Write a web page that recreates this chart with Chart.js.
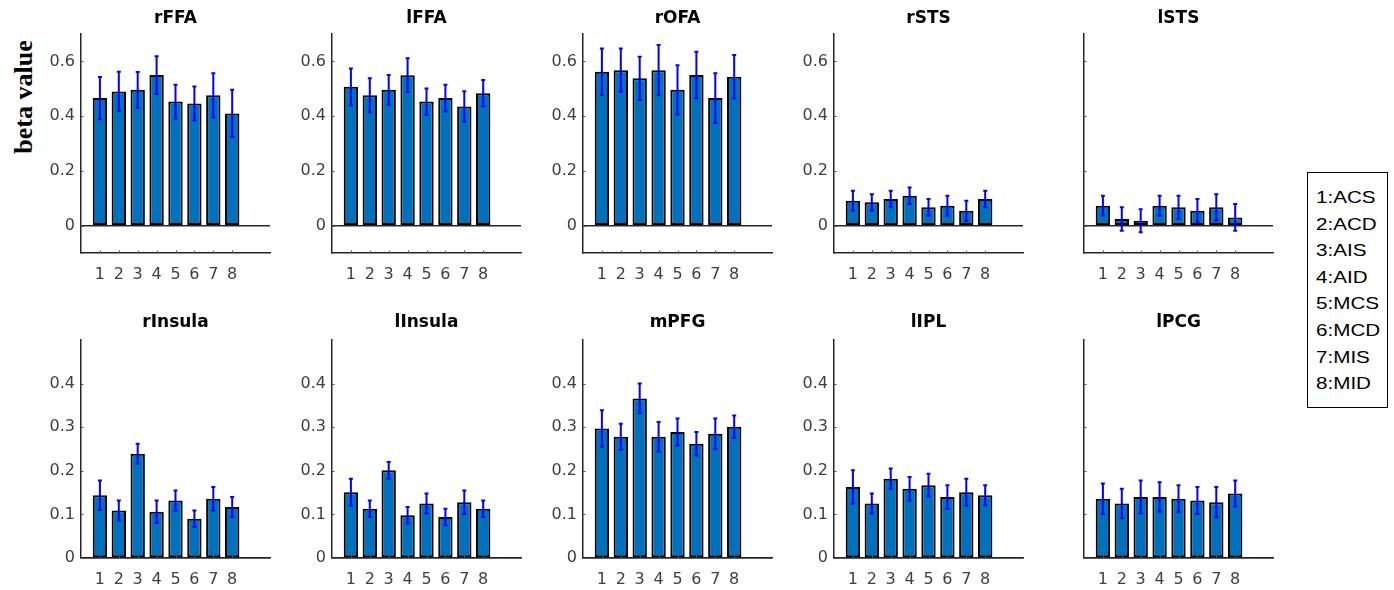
<!DOCTYPE html>
<html>
<head>
<meta charset="utf-8">
<script src="https://cdn.jsdelivr.net/npm/chart.js@4.4.0/dist/chart.umd.min.js"></script>
<style>
  html, body { margin: 0; padding: 0; background: #fff; }
  body { width: 1394px; height: 590px; overflow: hidden; position: relative; font-family: "Liberation Sans", Arial, sans-serif; }
  canvas.pc { position: absolute; }
  #ylab { position: absolute; left: 24px; top: 97px; transform: translate(-50%, -50%) rotate(-90deg);
          font: bold 26px "Liberation Serif", "Times New Roman", serif; white-space: nowrap; color: #000; line-height: 1; }
  #legend { position: absolute; left: 1307px; top: 172px; width: 81px; height: 236px; box-sizing: border-box;
            border: 1.5px solid #000; padding: 11px 0 0 8px; font-size: 16.5px; line-height: 26.6px; color: #000; }
  #legend div { transform: scaleX(1.25); transform-origin: 0 50%; white-space: nowrap; }
</style>
</head>
<body>
<div id="ylab">beta value</div>
<div id="legend"></div>
<script>
// ---------- data ----------
const categories = ['1', '2', '3', '4', '5', '6', '7', '8'];
const legendLabels = ['1:ACS', '2:ACD', '3:AIS', '4:AID', '5:MCS', '6:MCD', '7:MIS', '8:MID'];
const topTicks = [0, 0.2, 0.4, 0.6];
const bottomTicks = [0, 0.1, 0.2, 0.3, 0.4];

const rFFA_mean = [0.466, 0.490, 0.496, 0.550, 0.453, 0.446, 0.476, 0.410];
const rFFA_err  = [0.077, 0.072, 0.065, 0.069, 0.062, 0.062, 0.081, 0.086];
const lFFA_mean = [0.507, 0.476, 0.496, 0.549, 0.453, 0.466, 0.435, 0.484];
const lFFA_err  = [0.067, 0.062, 0.054, 0.062, 0.048, 0.049, 0.056, 0.048];
const rOFA_mean = [0.562, 0.568, 0.538, 0.568, 0.496, 0.550, 0.466, 0.544];
const rOFA_err  = [0.085, 0.079, 0.079, 0.092, 0.090, 0.085, 0.091, 0.079];
const rSTS_mean = [0.091, 0.085, 0.097, 0.109, 0.067, 0.073, 0.054, 0.097];
const rSTS_err  = [0.036, 0.030, 0.030, 0.030, 0.030, 0.036, 0.037, 0.030];
const lSTS_mean = [0.073, 0.024, 0.018, 0.073, 0.067, 0.054, 0.067, 0.030];
const lSTS_err  = [0.036, 0.043, 0.042, 0.036, 0.042, 0.043, 0.048, 0.049];

const rInsula_mean = [0.144, 0.109, 0.239, 0.106, 0.132, 0.090, 0.136, 0.117];
const rInsula_err  = [0.034, 0.023, 0.023, 0.026, 0.023, 0.019, 0.027, 0.023];
const lInsula_mean = [0.151, 0.113, 0.201, 0.098, 0.125, 0.094, 0.128, 0.113];
const lInsula_err  = [0.031, 0.019, 0.019, 0.019, 0.023, 0.019, 0.027, 0.019];
const mPFG_mean = [0.297, 0.278, 0.366, 0.278, 0.289, 0.262, 0.285, 0.301];
const mPFG_err  = [0.042, 0.030, 0.034, 0.034, 0.031, 0.027, 0.035, 0.026];
const lIPL_mean = [0.163, 0.125, 0.182, 0.159, 0.167, 0.140, 0.151, 0.144];
const lIPL_err  = [0.038, 0.023, 0.023, 0.027, 0.026, 0.027, 0.031, 0.023];
const lPCG_mean = [0.136, 0.125, 0.140, 0.140, 0.136, 0.132, 0.128, 0.148];
const lPCG_err  = [0.035, 0.034, 0.038, 0.034, 0.031, 0.031, 0.035, 0.030];

const panels = [
  { name: 'rFFA', mean: rFFA_mean, err: rFFA_err, row: 0, col: 0, yLabels: true },
  { name: 'lFFA', mean: lFFA_mean, err: lFFA_err, row: 0, col: 1, yLabels: true },
  { name: 'rOFA', mean: rOFA_mean, err: rOFA_err, row: 0, col: 2, yLabels: true },
  { name: 'rSTS', mean: rSTS_mean, err: rSTS_err, row: 0, col: 3, yLabels: true },
  { name: 'lSTS', mean: lSTS_mean, err: lSTS_err, row: 0, col: 4, yLabels: false },
  { name: 'rInsula', mean: rInsula_mean, err: rInsula_err, row: 1, col: 0, yLabels: true },
  { name: 'lInsula', mean: lInsula_mean, err: lInsula_err, row: 1, col: 1, yLabels: true },
  { name: 'mPFG', mean: mPFG_mean, err: mPFG_err, row: 1, col: 2, yLabels: true },
  { name: 'lIPL', mean: lIPL_mean, err: lIPL_err, row: 1, col: 3, yLabels: true },
  { name: 'lPCG', mean: lPCG_mean, err: lPCG_err, row: 1, col: 4, yLabels: false }
];

// ---------- layout ----------
const colLefts = [81, 332, 583, 834, 1084];
const AXW = 189, YW = 60, RPAD = 5;
const rows = [
  { top: 0, height: 290, ymin: -0.1, ymax: 0.7, ticks: topTicks, tpad: { top: 8, bottom: 5.6 }, xh: 37 },
  { top: 290, height: 300, ymin: 0, ymax: 0.5, ticks: bottomTicks, tpad: { top: 22.6, bottom: 7 }, xh: 32 }
];

document.getElementById('legend').innerHTML = legendLabels.map(s => '<div>' + s + '</div>').join('');

const FONT = '"DejaVu Sans", "Liberation Sans", Arial, sans-serif';
const AXIS_COLOR = '#262626';

const errorBarPlugin = {
  id: 'errorBars',
  afterDatasetsDraw(chart, args, opts) {
    const { ctx, scales: { x, y } } = chart;
    const p = opts.panel;
    ctx.save();
    ctx.strokeStyle = '#0000ff';
    ctx.lineWidth = 2;
    p.mean.forEach((m, i) => {
      const px = x.getPixelForValue(i + 1);
      const yt = y.getPixelForValue(m + p.err[i]);
      const yb = y.getPixelForValue(m - p.err[i]);
      ctx.beginPath();
      ctx.moveTo(px, yt); ctx.lineTo(px, yb);
      ctx.moveTo(px - 2, yt); ctx.lineTo(px + 2, yt);
      ctx.moveTo(px - 2, yb); ctx.lineTo(px + 2, yb);
      ctx.stroke();
    });
    ctx.restore();
  }
};

const innerTicksPlugin = {
  id: 'innerTicks',
  afterDraw(chart) {
    const { ctx, scales: { x, y }, chartArea } = chart;
    ctx.save();
    ctx.strokeStyle = '#555';
    ctx.lineWidth = 1;
    y.ticks.forEach(t => {
      const py = Math.round(y.getPixelForValue(t.value)) + 0.5;
      ctx.beginPath(); ctx.moveTo(chartArea.left, py); ctx.lineTo(chartArea.left + 2.5, py); ctx.stroke();
    });
    categories.forEach((c, i) => {
      const px = Math.round(x.getPixelForValue(i + 1)) + 0.5;
      ctx.beginPath(); ctx.moveTo(px, chartArea.bottom); ctx.lineTo(px, chartArea.bottom - 2.5); ctx.stroke();
    });
    ctx.restore();
  }
};

panels.forEach(p => {
  const r = rows[p.row];
  const cv = document.createElement('canvas');
  cv.className = 'pc';
  const w = YW + AXW + RPAD;
  cv.width = w; cv.height = r.height;
  cv.style.left = (colLefts[p.col] - YW) + 'px';
  cv.style.top = r.top + 'px';
  cv.style.width = w + 'px'; cv.style.height = r.height + 'px';
  document.body.appendChild(cv);

  new Chart(cv, {
    type: 'bar',
    data: {
      datasets: [{
        data: categories.map((c, i) => ({ x: i + 1, y: p.mean[i] })),
        backgroundColor: '#0072BD',
        borderColor: '#000000',
        borderWidth: 2,
        borderSkipped: false,
        barPercentage: 0.76,
        categoryPercentage: 1.0
      }]
    },
    options: {
      responsive: false,
      animation: false,
      devicePixelRatio: 1,
      layout: { padding: { left: 0, right: RPAD, top: 0, bottom: 0 } },
      plugins: {
        legend: { display: false },
        tooltip: { enabled: false },
        title: {
          display: true, text: p.name, fullSize: false, color: '#000',
          font: { family: FONT, size: 17, weight: 'bold' },
          padding: r.tpad
        },
        errorBars: { panel: p }
      },
      scales: {
        x: {
          type: 'linear', min: 0, max: 10, offset: false,
          afterFit(s) { s.height = r.xh; },
          afterBuildTicks(s) { s.ticks = categories.map((c, i) => ({ value: i + 1 })); },
          ticks: {
            autoSkip: false, maxRotation: 0, padding: 12, color: '#404040',
            font: { family: FONT, size: 16 },
            callback: (v) => categories[v - 1] || ''
          },
          grid: { display: false, offset: false, drawTicks: false },
          border: { display: true, color: AXIS_COLOR, width: 1.5 }
        },
        y: {
          min: r.ymin, max: r.ymax,
          afterFit(s) { s.width = YW; },
          afterBuildTicks(s) { s.ticks = r.ticks.map(v => ({ value: v })); },
          ticks: {
            padding: 6, color: '#404040',
            font: { family: FONT, size: 16 },
            callback: (v) => p.yLabels ? String(v) : ''
          },
          grid: {
            drawTicks: false,
            lineWidth: 1.5,
            color: (ctx) => (ctx.tick && ctx.tick.value === 0) ? AXIS_COLOR : 'rgba(0,0,0,0)'
          },
          border: { display: true, color: AXIS_COLOR, width: 1.5 }
        }
      }
    },
    plugins: [errorBarPlugin, innerTicksPlugin]
  });
});
</script>
</body>
</html>
